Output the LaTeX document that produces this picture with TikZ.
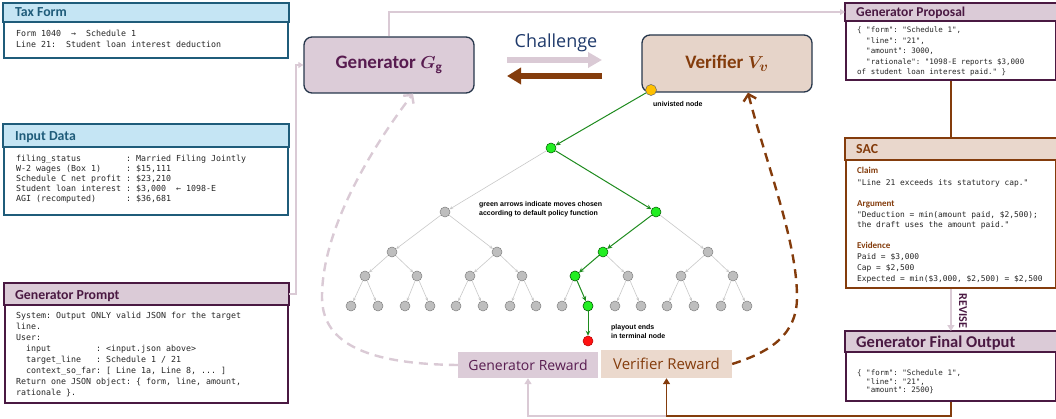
\documentclass[tikz,border=0pt]{standalone}
\usepackage{fontspec}
\setmainfont{Carlito}
\setmonofont{DejaVu Sans Mono}
\newfontfamily\osans{Open Sans}
\newfontfamily\lsans{Liberation Sans}
\usetikzlibrary{arrows.meta}
\definecolor{blu}{HTML}{1F5C7A}
\definecolor{bluL}{HTML}{C5E5F4}
\definecolor{pur}{HTML}{4A1942}
\definecolor{purL}{HTML}{DBCBD7}
\definecolor{purA}{HTML}{DACAD5}
\definecolor{brn}{HTML}{843C0C}
\definecolor{brnL}{HTML}{E9D7CC}
\definecolor{genF}{HTML}{DCCCD8}
\definecolor{verF}{HTML}{E6D4C9}
\definecolor{vrF}{HTML}{EBD9CD}
\definecolor{genT}{HTML}{581C50}
\definecolor{slate}{HTML}{26364B}
\definecolor{chal}{HTML}{1F3A6B}
\definecolor{grnN}{HTML}{22EE22}
\definecolor{grnE}{HTML}{1E8B1E}
\definecolor{gryN}{HTML}{BEBEBE}
\definecolor{gryE}{HTML}{C8C8C8}
\definecolor{ylw}{HTML}{FFC000}
\definecolor{rd}{HTML}{FF1111}
\newcommand{\bigttl}{\fontsize{19}{22}\selectfont\bfseries\boldmath}
\begin{document}
\begin{tikzpicture}[x=1pt,y=-1pt,
  panel/.style={draw=#1, line width=1.8pt, fill=white, rectangle, anchor=north west, inner sep=0},
  ttl/.style={font=\fontsize{13.8}{16}\selectfont\bfseries, anchor=base west, inner sep=0},
  mono/.style={font=\fontsize{8.3}{11}\selectfont\ttfamily, anchor=base west, inner sep=0, text=black!85},
  monor/.style={font=\fontsize{7.5}{10}\selectfont\ttfamily, anchor=base west, inner sep=0, text=black!85},
  monoc/.style={font=\fontsize{7.9}{10}\selectfont\ttfamily, anchor=base west, inner sep=0, text=black!85},
  subh/.style={font=\fontsize{9}{10}\selectfont\bfseries, anchor=base west, inner sep=0, text=brn},
  conn/.style={draw=purA, line width=1.8pt},
  tn/.style={circle, draw=black!50, line width=0.5pt, fill=gryN, minimum size=10pt, inner sep=0},
  gn/.style={tn, fill=grnN, draw=green!35!black},
  ge/.style={draw=gryE, line width=0.6pt, -{Stealth[length=3.5pt,width=3pt]}},
  gre/.style={draw=grnE, line width=1pt, -{Stealth[length=5pt,width=4.5pt]}},
  tlab/.style={font=\lsans\fontsize{7}{9}\selectfont\bfseries, inner sep=0, align=left, anchor=west},
  dash2/.style={line width=2.4pt, dash pattern=on 9pt off 6pt, -{Straight Barb[length=6pt,width=13pt]}},
  bigbox/.style={draw=slate, line width=1.3pt, rounded corners=8pt, minimum width=170pt, font=\bigttl},
]
\useasboundingbox (0,0) rectangle (1056,419);

% ---------- left panels ----------
\node[panel=blu, minimum width=284pt, minimum height=54pt] (tax) at (3,3) {};
\draw[draw=blu, fill=bluL, line width=1.8pt] (tax.north west) rectangle ([yshift=-19pt]tax.north east);
\node[ttl, text=blu] (taxT) at (15,17) {Tax Form};
\node[mono] (tx1) at (16,37) {Form 1040~~→~~Schedule 1};
\node[mono] (tx2) at (16,48) {Line 21:~~Student loan interest deduction};

\node[panel=blu, minimum width=284pt, minimum height=90pt] (inp) at (3,124) {};
\draw[draw=blu, fill=bluL, line width=1.8pt] (inp.north west) rectangle ([yshift=-23pt]inp.north east);
\node[ttl, text=blu] (inpT) at (15,140.5) {Input Data};
\node[mono] (in1) at (16,162) {filing\_status~~~~~~~~~: Married Filing Jointly};
\node[mono] (in2) at (16,172) {W-2 wages (Box 1)~~~~~: \$15,111};
\node[mono] (in3) at (16,182) {Schedule C net profit : \$23,210};
\node[mono] (in4) at (16,192) {Student loan interest : \$3,000~~← 1098-E};
\node[mono] (in5) at (16,202) {AGI (recomputed)~~~~~~: \$36,681};

\node[panel=pur, minimum width=283pt, minimum height=119pt] (gp) at (4,283) {};
\draw[draw=pur, fill=purL, line width=1.8pt] (gp.north west) rectangle ([yshift=-22pt]gp.north east);
\node[ttl, text=pur] (gpT) at (15,299.5) {Generator Prompt};
\node[mono] (gp1) at (16,318) {System: Output ONLY valid JSON for the target};
\node[mono] (gp2) at (16,329.1) {line.};
\node[mono] (gp3) at (16,340.2) {User:};
\node[mono] (gp4) at (16,351.3) {~~input~~~~~~~~~: <input.json above>};
\node[mono] (gp5) at (16,362.4) {~~target\_line~~~: Schedule 1 / 21};
\node[mono] (gp6) at (16,373.5) {~~context\_so\_far: [ Line 1a, Line 8, ... ]};
\node[mono] (gp7) at (16,384.6) {Return one JSON object: \{ form, line, amount,};
\node[mono] (gp8) at (16,395.7) {rationale \}.};

% ---------- right panels ----------
\node[panel=pur, minimum width=210pt, minimum height=76pt] (prop) at (845,3) {};
\draw[draw=pur, fill=purL, line width=1.8pt] (prop.north west) rectangle ([yshift=-18pt]prop.north east);
\node[ttl, text=pur, font=\fontsize{13.5}{16}\selectfont\bfseries] (propT) at (856,16.5) {Generator Proposal};
\node[monor] (pr1) at (857,32.7) {\{ "form": "Schedule 1",};
\node[monor] (pr2) at (857,43.2) {~~"line": "21",};
\node[monor] (pr3) at (857,53.7) {~~"amount": 3000,};
\node[monor] (pr4) at (857,64.2) {~~"rationale": "1098-E reports \$3,000};
\node[monor] (pr5) at (857,74.7) {of student loan interest paid." \}};

\node[panel=brn, minimum width=210pt, minimum height=149pt] (sac) at (845,138) {};
\draw[draw=brn, fill=brnL, line width=1.8pt] (sac.north west) rectangle ([yshift=-22pt]sac.north east);
\node[ttl, text=brn] (sacT) at (856,154) {SAC};
\node[subh] (sc1) at (857,174) {Claim};
\node[monoc] (sc2) at (857,186) {"Line 21 exceeds its statutory cap."};
\node[subh] (sc3) at (857,206.5) {Argument};
\node[monoc] (sc4) at (857,218) {"Deduction = min(amount paid, \$2,500);};
\node[monoc] (sc5) at (857,227.5) {the draft uses the amount paid."};
\node[subh] (sc6) at (857,249) {Evidence};
\node[monoc] (sc7) at (857,260) {Paid = \$3,000};
\node[monoc] (sc8) at (857,270.7) {Cap = \$2,500};
\node[monoc] (sc9) at (857,281.3) {Expected = min(\$3,000, \$2,500) = \$2,500};

\node[panel=pur, minimum width=210pt, minimum height=69pt] (fin) at (845,331) {};
\draw[draw=pur, fill=purL, line width=1.8pt] (fin.north west) rectangle ([yshift=-21pt]fin.north east);
\node[ttl, text=pur, font=\fontsize{16.5}{18}\selectfont\bfseries] (finT) at (856,347) {Generator Final Output};
\node[monor] (fo1) at (857,375.4) {\{ "form": "Schedule 1",};
\node[monor] (fo2) at (857,384) {~~"line": "21",};
\node[monor] (fo3) at (857,392.5) {~~"amount": 2500\}};

% ---------- central boxes ----------
\node[bigbox, fill=genF, text=genT, minimum height=56pt] (gen) at (389,65) {Generator $G_{\mathrm{g}}$};
\node[bigbox, fill=verF, text=brn, minimum height=57pt] (ver) at (727,63.5) {Verifier $V_v$};
\node[font=\osans\fontsize{18}{20}\selectfont, text=chal, inner sep=0] (chal) at (556,43) {Challenge};
\coordinate (chR1) at (507,60);
\coordinate (chR2) at (602,60);
\draw[draw=purA, line width=5.5pt, -{Triangle[length=14pt,width=15pt]}] (chR1) -- (chR2);
\coordinate (chL1) at (602,76);
\coordinate (chL2) at (507,76);
\draw[draw=brn, line width=5.5pt, -{Triangle[length=14pt,width=16pt]}] (chL1) -- (chL2);

\node[fill=genF, minimum width=140pt, minimum height=26pt, inner sep=0, font=\osans\fontsize{14}{16}\selectfont, text=genT] (gr) at (528,365) {Generator Reward};
\node[fill=vrF, minimum width=131pt, minimum height=28pt, inner sep=0, font=\osans\fontsize{15}{17}\selectfont, text=brn] (vr) at (666.5,364) {Verifier Reward};

% ---------- connectors ----------
\draw[conn, -{Triangle[length=5pt,width=6pt]}] ([yshift=-11pt]gp.north east) -- ++(7,0) |- (gen.west);
\draw[conn, -{Triangle[length=5pt,width=6pt]}] (gen.north) |- ([yshift=-9pt]prop.north west);
\draw[draw=brn, line width=1.8pt] (prop.south) -- (sac.north);
\draw[conn, -{Triangle[length=6pt,width=7pt]}] (sac.south) -- (fin.north);
\node[rotate=-90, font=\fontsize{12}{14}\selectfont\bfseries, text=pur, inner sep=0] (rev) at (963,311) {REVISE};
\draw[conn, -{Triangle[length=6pt,width=7pt]}] (fin.south) -- ++(0,14) -| (gr.south);
\draw[draw=brn, line width=1.8pt, -{Triangle[length=6pt,width=7pt]}] (fin.south) -- ++(0,14) -| (vr.south);

\draw[draw=purA, dash2] (gr.west) .. controls (360,364) and (322,340) .. (322,297) .. controls (322,230) and (370,150) .. ([xshift=24pt]gen.south);
\draw[draw=brn, dash2] (vr.east) .. controls (770,352) and (797,335) .. (797,297) .. controls (797,240) and (765,160) .. ([xshift=21pt]ver.south);

% ---------- tree ----------
\node[tn, fill=ylw, draw=black!60, minimum size=11pt] (r) at (651,90) {};
\node[gn] (a) at (551,148) {};
\node[tn] (b1) at (445,212) {};
\node[gn] (b2) at (656,212) {};
\node[tn] (c1) at (392,252) {};
\node[tn] (c2) at (497,252) {};
\node[gn] (c3) at (603,252) {};
\node[tn] (c4) at (708,252) {};
\foreach \x [count=\i] in {365,417,470,522,575,628,681,733}
  \node[tn] (d\i) at (\x,276) {};
\node[gn] (d5g) at (d5) {};
\foreach \x [count=\i] in {351,378,405,430,456,483,510,536,562,588,615,641,667,694,721,747}
  \node[tn] (e\i) at (\x,306) {};
\node[gn] (e10g) at (e10) {};
\node[tn, fill=rd, draw=red!70!black] (t) at (588,341) {};

\draw[gre] (r) -- (a);
\draw[ge] (a) -- (b1);
\draw[gre] (a) -- (b2);
\draw[ge] (b1) -- (c1);
\draw[ge] (b1) -- (c2);
\draw[gre] (b2) -- (c3);
\draw[ge] (b2) -- (c4);
\draw[ge] (c1) -- (d1);
\draw[ge] (c1) -- (d2);
\draw[ge] (c2) -- (d3);
\draw[ge] (c2) -- (d4);
\draw[gre] (c3) -- (d5);
\draw[ge] (c3) -- (d6);
\draw[ge] (c4) -- (d7);
\draw[ge] (c4) -- (d8);
\foreach \i in {1,2,3,4,6,7,8}{
  \pgfmathtruncatemacro{\ea}{2*\i-1}
  \pgfmathtruncatemacro{\eb}{2*\i}
  \draw[ge] (d\i) -- (e\ea);
  \draw[ge] (d\i) -- (e\eb);
}
\draw[ge] (d5) -- (e9);
\draw[gre] (d5) -- (e10);
\draw[gre] (e10) -- (t);

\node[tlab] (lu) at (653,104) {univisted node};
\node[tlab] (lg) at (479,209.5) {green arrows indicate moves chosen\\according to default policy function};
\node[tlab] (lp) at (611,331) {playout ends\\in terminal node};
\end{tikzpicture}
\end{document}
